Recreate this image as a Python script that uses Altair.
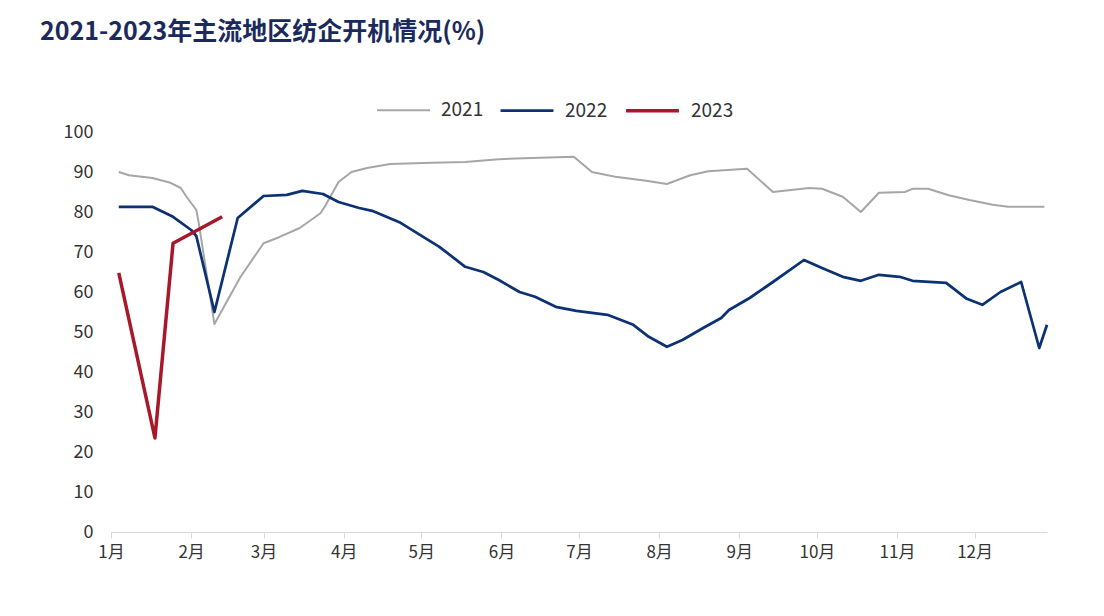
import altair as alt
import pandas as pd

# ---- data (day of year, value in %) ----
days_2021 = [3, 7, 16, 23, 27, 29, 33, 34, 40, 50, 59, 65, 73, 81, 83, 88, 93, 99, 108, 124,
             137, 150, 163, 179, 186, 195, 207, 215, 224, 231, 246, 256, 270, 275, 283, 290,
             297, 307, 310, 316, 324, 332, 341, 347, 361]
vals_2021 = [90, 89.2, 88.5, 87.3, 86, 84, 80.5, 77, 52, 63.7, 72.2, 73.7, 76, 79.7, 81.7, 87.5,
             90, 91, 92, 92.3, 92.5, 93.2, 93.5, 93.8, 90, 88.8, 87.8, 87, 89.2, 90.2, 90.8, 85,
             86, 85.8, 83.8, 80, 84.8, 85, 85.8, 85.8, 84.2, 83, 81.8, 81.3, 81.3]

days_2022 = [3, 16, 24, 31, 33, 40, 49, 59, 68, 74, 82, 88, 96, 101, 112, 127, 137, 144, 150,
             158, 164, 172, 180, 192, 202, 208, 215, 221, 229, 236, 239, 247, 256, 268, 275,
             283, 290, 297, 305, 310, 323, 331, 337, 344, 352, 359, 362]
vals_2022 = [81.3, 81.3, 78.8, 75.5, 74, 55, 78.5, 84, 84.3, 85.3, 84.5, 82.5, 81, 80.3, 77.3,
             71.3, 66.3, 65, 63, 60, 58.8, 56.3, 55.3, 54.3, 51.8, 48.8, 46.3, 48, 51, 53.5,
             55.5, 58.5, 62.5, 68, 66, 63.8, 62.8, 64.3, 63.8, 62.8, 62.3, 58.3, 56.8, 60,
             62.5, 46, 51.8]

days_2023 = [3, 17, 24, 43]
vals_2023 = [64.8, 23.5, 72.2, 78.8]

years = ["2021", "2022", "2023"]
colors = ["#a6a6a6", "#0d3274", "#a8182b"]
widths = [2, 3.5, 3]

month_starts = [0, 31, 59, 90, 120, 151, 181, 212, 243, 273, 304, 334]
month_labels = ["1月", "2月", "3月", "4月", "5月", "6月", "7月", "8月", "9月", "10月", "11月", "12月"]
y_ticks = list(range(0, 101, 10))

title_text = "2021-2023年主流地区纺企开机情况(%)"

rows = []
for yr, ds, vs in zip(years, [days_2021, days_2022, days_2023], [vals_2021, vals_2022, vals_2023]):
    for d, v in zip(ds, vs):
        rows.append({"year": yr, "day": d, "value": v})
df = pd.DataFrame(rows)

label_expr = "[" + ",".join(f"'{m}'" for m in month_labels) + "][indexof([" + \
    ",".join(str(m) for m in month_starts) + "], datum.value)]"

FONT = "Noto Sans CJK SC"

chart = alt.Chart(df).mark_line(strokeJoin="round").encode(
    x=alt.X("day:Q",
            scale=alt.Scale(domain=[0, 362], nice=False, zero=False),
            axis=alt.Axis(values=month_starts, labelExpr=label_expr, title=None,
                          grid=False, domainColor="#d9d9d9", tickColor="#d9d9d9",
                          tickSize=6, labelPadding=6, labelFontSize=17,
                          labelColor="#333333", labelFont=FONT, labelFlush=False)),
    y=alt.Y("value:Q",
            scale=alt.Scale(domain=[0, 100], nice=False),
            axis=alt.Axis(values=y_ticks, title=None, grid=False, domain=False,
                          ticks=False, labelPadding=18, labelFontSize=18,
                          labelColor="#333333", labelFont=FONT)),
    color=alt.Color("year:N",
                    scale=alt.Scale(domain=years, range=colors),
                    legend=alt.Legend(title=None, orient="none", legendX=265, legendY=-50,
                                      direction="horizontal", symbolType="stroke",
                                      symbolSize=2800, symbolStrokeWidth=3,
                                      labelFontSize=19, labelFont=FONT,
                                      labelColor="#333333", labelOffset=10,
                                      columnPadding=11)),
    strokeWidth=alt.StrokeWidth("year:N",
                                scale=alt.Scale(domain=years, range=widths),
                                legend=None),
    order="day:Q",
).properties(
    width=936,
    height=400,
    background="white",
    title=alt.TitleParams(text=title_text, anchor="start", frame="group", dx=-71,
                          offset=37, fontSize=25, font=FONT, fontWeight="bold",
                          color="#1b2a5c"),
    autosize=alt.AutoSizeParams(type="none"),
    padding={"left": 111, "top": 132, "right": 57, "bottom": 84},
).configure_view(stroke=None)

chart.save("out.html", embed_options={"renderer": "svg", "actions": False})
